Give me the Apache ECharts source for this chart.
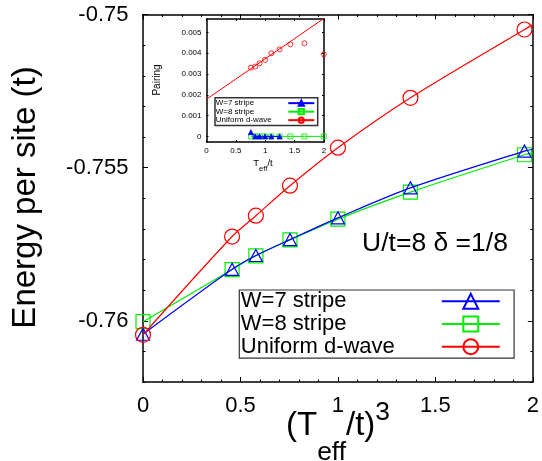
<!DOCTYPE html>
<html><head><meta charset="utf-8">
<script src="https://cdn.jsdelivr.net/npm/echarts@6/dist/echarts.min.js"></script>
<style>html,body{margin:0;padding:0;background:#fff}#c{width:542px;height:461px}</style>
</head><body><div id="c"></div>
<script>
// ---------- data ----------
const legendLabels = ['W=7 stripe', 'W=8 stripe', 'Uniform d-wave'];
const insetNames = ['inset W7', 'inset W8', 'inset dwave'];

// main panel: x = (T_eff/t)^3, y = energy per site
const xMain = [0, 0.457, 0.579, 0.754, 1.0, 1.372, 1.957];
const w7Energy = [-0.76044, -0.75832, -0.75787, -0.75735, -0.75664, -0.75566, -0.75446];
const w8Energy = [-0.76003, -0.75833, -0.75788, -0.75736, -0.75668, -0.75580, -0.75458];
const dwEnergy = [-0.76046, -0.75725, -0.75657, -0.75559, -0.75435, -0.75272, -0.75049];
// where the fit curves meet the right frame (x = 2)
const fitEndX = 2;
const w7FitEnd = -0.75440;
const w8FitEnd = -0.75452;
const dwFitEnd = -0.75033;
const yMainMajor = [-0.76, -0.755, -0.75];

// inset: x = T_eff/t, y = pairing
const insetT = [0.756, 0.829, 0.903, 0.996, 1.103, 1.244, 1.427, 1.667, 1.997];
const insetDW = [0.00331, 0.00336, 0.00352, 0.00368, 0.00400, 0.00419, 0.00443, 0.00448, 0.00395];
const insetW7 = [0.0002, 0, 0, 0, 0, 0];
const insetW8 = [0, 0, 0, 0, 0, 0, 0, 0, 0];
const insetFitX = [0, 2];
const insetFitY = [0.00179, 0.00568];
const insetYMajor = [0, 0.001, 0.002, 0.003, 0.004, 0.005];

// ---------- chart ----------
const FONT = 'Liberation Sans, Arial, Helvetica, sans-serif';
const BLUE = '#0000ff', GREEN = '#00ee00', RED = '#ff0000';
const chart = echarts.init(document.getElementById('c'), null, {renderer: 'canvas'});

function pairs(xs, ys) { return ys.map((y, i) => [xs[i], y]); }
function withEnd(xs, ys, endY) { return pairs(xs, ys).concat([{value: [fitEndX, endY], symbol: 'none'}]); }

const frame = {show: true, onZero: false, lineStyle: {color: '#000', width: 1.5}};
const lbl = {color: '#000', fontFamily: FONT};

const dSub = 27, dSup = 12.7;

const option = {
  animation: false,
  backgroundColor: '#fff',
  grid: [
    {left: 143, top: 14.5, width: 390, height: 367.5, containLabel: false},
    {left: 206.5, top: 19, width: 117.5, height: 123, containLabel: false}
  ],
  xAxis: [
    {gridIndex: 0, type: 'value', min: 0, max: 2, interval: 0.5, position: 'bottom',
     axisLine: frame, splitLine: {show: false},
     axisTick: {inside: true, length: 5, lineStyle: {color: '#000'}},
     minorTick: {show: true, splitNumber: 5, length: 2.5, lineStyle: {color: '#000'}},
     axisLabel: Object.assign({fontSize: 22, margin: 13}, lbl)},
    {gridIndex: 0, type: 'value', min: 0, max: 2, interval: 0.5, position: 'top',
     axisLine: frame, splitLine: {show: false},
     axisTick: {inside: true, length: 5, lineStyle: {color: '#000'}},
     minorTick: {show: true, splitNumber: 5, length: 2.5, lineStyle: {color: '#000'}},
     axisLabel: {show: false}},
    {gridIndex: 1, type: 'value', min: 0, max: 2, interval: 0.5, position: 'bottom',
     axisLine: frame, splitLine: {show: false},
     axisTick: {inside: true, length: 2, lineStyle: {color: '#000'}},
     axisLabel: Object.assign({fontSize: 8, margin: 5}, lbl)},
    {gridIndex: 1, type: 'value', min: 0, max: 2, interval: 0.5, position: 'top',
     axisLine: frame, splitLine: {show: false},
     axisTick: {inside: true, length: 2, lineStyle: {color: '#000'}},
     axisLabel: {show: false}}
  ],
  yAxis: [
    {gridIndex: 0, type: 'value', min: -0.762, max: -0.75, position: 'left',
     axisLine: frame, splitLine: {show: false},
     axisTick: {inside: true, length: 5, customValues: yMainMajor, lineStyle: {color: '#000'}},
     axisLabel: Object.assign({fontSize: 22, margin: 14.5, customValues: yMainMajor}, lbl)},
    {gridIndex: 0, type: 'value', min: -0.762, max: -0.75, position: 'right',
     axisLine: frame, splitLine: {show: false},
     axisTick: {inside: true, length: 5, customValues: yMainMajor, lineStyle: {color: '#000'}},
     axisLabel: {show: false}},
    {gridIndex: 0, type: 'value', min: -0.762, max: -0.75, interval: 0.001, position: 'left',
     axisLine: {show: false, onZero: false}, splitLine: {show: false},
     axisTick: {inside: true, length: 2.5, lineStyle: {color: '#000'}},
     axisLabel: {show: false}},
    {gridIndex: 0, type: 'value', min: -0.762, max: -0.75, interval: 0.001, position: 'right',
     axisLine: {show: false, onZero: false}, splitLine: {show: false},
     axisTick: {inside: true, length: 2.5, lineStyle: {color: '#000'}},
     axisLabel: {show: false}},
    {gridIndex: 1, type: 'value', min: -0.00027, max: 0.00565, position: 'left',
     axisLine: frame, splitLine: {show: false},
     axisTick: {inside: true, length: 2, customValues: insetYMajor, lineStyle: {color: '#000'}},
     axisLabel: Object.assign({fontSize: 8, margin: 5, customValues: insetYMajor}, lbl)},
    {gridIndex: 1, type: 'value', min: -0.00027, max: 0.00565, position: 'right',
     axisLine: frame, splitLine: {show: false},
     axisTick: {inside: true, length: 2, customValues: insetYMajor, lineStyle: {color: '#000'}},
     axisLabel: {show: false}}
  ],
  legend: [
    {data: legendLabels, orient: 'vertical', left: 239.3, top: 290, align: 'right',
     itemWidth: 58, itemHeight: 18.75, itemGap: 0, padding: [0, 13.3, 0, 1.5],
     borderColor: '#333', borderWidth: 1.2, selectedMode: false,
     formatter: n => '{a|' + n + '}',
     textStyle: {fontSize: 22, fontFamily: FONT, color: '#000', lineHeight: 22.7,
       rich: {a: {width: 196, align: 'left', fontSize: 22, fontFamily: FONT, lineHeight: 22.7, color: '#000'}}}},
    {data: insetNames, orient: 'vertical', left: 215, top: 97.7, align: 'right',
     itemWidth: 26, itemHeight: 6.5, itemGap: 0, padding: [1.2, 2.4, 1.2, 0.7],
     borderColor: '#333', borderWidth: 1.5, selectedMode: false,
     lineStyle: {opacity: 1},
     formatter: n => '{a|' + legendLabels[insetNames.indexOf(n)] + '}',
     textStyle: {fontSize: 8, fontFamily: FONT, color: '#000', lineHeight: 8.5,
       rich: {a: {width: 67.6, align: 'left', fontSize: 8, fontFamily: FONT, lineHeight: 8.5, color: '#000'}}}}
  ],
  series: [
    {name: legendLabels[0], type: 'line', xAxisIndex: 0, yAxisIndex: 0, smooth: 0.3,
     data: withEnd(xMain, w7Energy, w7FitEnd), symbol: 'triangle', symbolSize: [13, 12],
     lineStyle: {color: BLUE, width: 1.2}, itemStyle: {color: 'rgba(255,255,255,0)', borderColor: BLUE, borderWidth: 1.2}, z: 3},
    {name: legendLabels[1], type: 'line', xAxisIndex: 0, yAxisIndex: 0, smooth: 0.3,
     data: withEnd(xMain, w8Energy, w8FitEnd), symbol: 'rect', symbolSize: 14,
     lineStyle: {color: GREEN, width: 1.2}, itemStyle: {color: 'rgba(255,255,255,0)', borderColor: GREEN, borderWidth: 1.2}, z: 2},
    {name: legendLabels[2], type: 'line', xAxisIndex: 0, yAxisIndex: 0, smooth: 0.3,
     data: withEnd(xMain, dwEnergy, dwFitEnd), symbol: 'circle', symbolSize: 15,
     lineStyle: {color: RED, width: 1.2}, itemStyle: {color: 'rgba(255,255,255,0)', borderColor: RED, borderWidth: 1.2}, z: 4},
    // inset
    {name: 'inset fit', type: 'line', xAxisIndex: 2, yAxisIndex: 4, data: pairs(insetFitX, insetFitY),
     symbol: 'none', lineStyle: {color: RED, width: 1}, z: 2},
    {name: insetNames[0], type: 'line', xAxisIndex: 2, yAxisIndex: 4, data: pairs(insetT, insetW7),
     symbol: 'triangle', symbolSize: 5, lineStyle: {color: BLUE, width: 1},
     itemStyle: {color: BLUE, borderColor: BLUE, borderWidth: 0.8}, z: 4},
    {name: insetNames[1], type: 'line', xAxisIndex: 2, yAxisIndex: 4, data: pairs(insetT, insetW8),
     symbol: 'rect', symbolSize: 5, lineStyle: {color: GREEN, width: 1},
     itemStyle: {color: 'rgba(255,255,255,0)', borderColor: GREEN, borderWidth: 0.8}, z: 3},
    {name: insetNames[2], type: 'line', xAxisIndex: 2, yAxisIndex: 4, data: pairs(insetT, insetDW),
     symbol: 'circle', symbolSize: 5, lineStyle: {color: RED, width: 1, opacity: 0},
     itemStyle: {color: 'rgba(255,255,255,0)', borderColor: RED, borderWidth: 0.8}, z: 4}
  ],
  graphic: [
    {type: 'text', x: 25.5, y: 197.5, rotation: Math.PI / 2,
     style: {text: 'Energy per site (t)', fontSize: 33, fontFamily: FONT, fill: '#000', align: 'center', verticalAlign: 'middle'}},
    {type: 'text', x: 338, y: 425.5,
     style: {text: '{m|(T}{s|eff}{m|/t)}{p|3}', align: 'center', verticalAlign: 'middle', fill: '#000',
       rich: {
         m: {fontSize: 33, fontFamily: FONT, verticalAlign: 'middle', fill: '#000'},
         s: {fontSize: 26.4, fontFamily: FONT, verticalAlign: 'middle', padding: [2 * dSub, 0, 0, 0], fill: '#000'},
         p: {fontSize: 26.4, fontFamily: FONT, verticalAlign: 'middle', padding: [0, 0, 2 * dSup, 0], fill: '#000'}
       }}},
    {type: 'text', x: 435, y: 244.1,
     style: {text: 'U/t=8 δ =1/8', fontSize: 26.5, fontFamily: FONT, fill: '#000', align: 'center', verticalAlign: 'middle'}},
    {type: 'text', x: 157, y: 80, rotation: Math.PI / 2,
     style: {text: 'Pairing', fontSize: 10, fontFamily: FONT, fill: '#000', align: 'center', verticalAlign: 'middle'}},
    {type: 'text', x: 263, y: 163.4,
     style: {text: '{m|T}{s|eff}{m|/t}', align: 'center', verticalAlign: 'middle', fill: '#000',
       rich: {
         m: {fontSize: 9.5, fontFamily: FONT, verticalAlign: 'middle', fill: '#000'},
         s: {fontSize: 7.6, fontFamily: FONT, verticalAlign: 'middle', padding: [10.4, 0, 0, 0], fill: '#000'}
       }}}
  ]
};
chart.setOption(option);
</script>
</body></html>
